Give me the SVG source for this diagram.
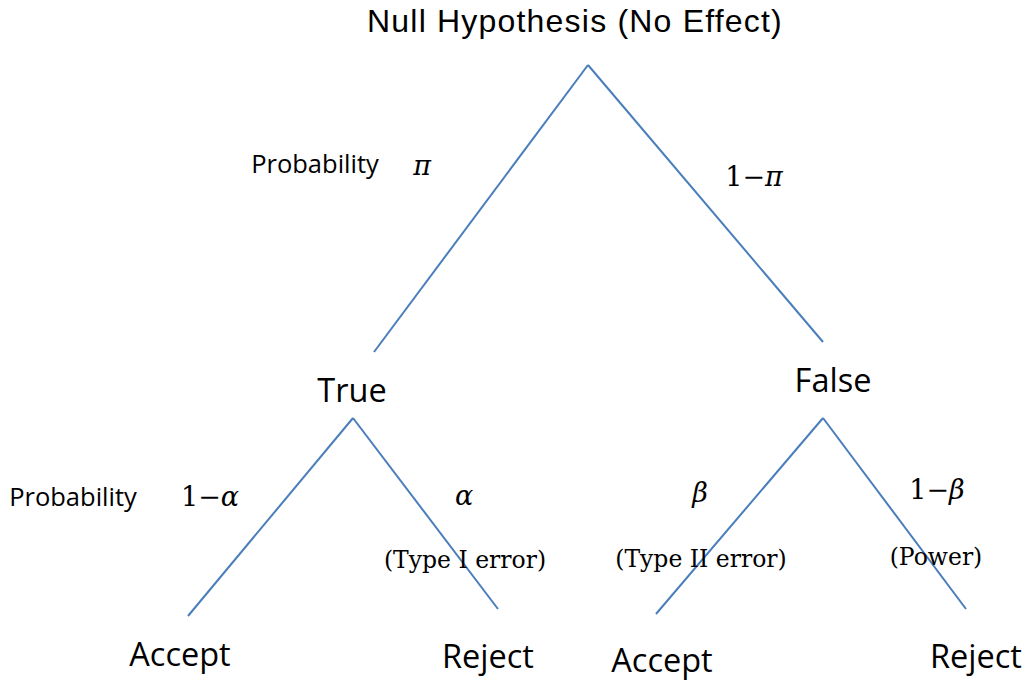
<svg xmlns="http://www.w3.org/2000/svg" width="1029" height="681" viewBox="0 0 1029 681">
<style>
.ln{stroke:#4a7ebb;stroke-width:2;fill:none}
.s{font-family:"Open Sans","Liberation Sans",sans-serif;fill:#000}
.b{font-size:32.5px}
.p{font-size:25.5px}
.m{font-family:"DejaVu Serif","Liberation Serif",serif;fill:#000;font-size:27px}
.t{font-family:"DejaVu Serif","Liberation Serif",serif;fill:#000;font-size:23.5px}
.i{font-style:italic}
</style>
<rect width="1029" height="681" fill="#fff"/>
<g id="connectors">
<line class="ln" x1="588" y1="65" x2="374" y2="352"/>
<line class="ln" x1="588" y1="65" x2="823" y2="342"/>
<line class="ln" x1="353" y1="418" x2="188" y2="616"/>
<line class="ln" x1="353" y1="418" x2="498" y2="609"/>
<line class="ln" x1="823" y1="418" x2="656" y2="614"/>
<line class="ln" x1="823" y1="418" x2="966" y2="609"/>
</g>
<g id="root"><text x="575" y="32" text-anchor="middle" font-family="'Liberation Sans',Arial,sans-serif" font-size="32" letter-spacing="1.2" fill="#000">Null Hypothesis (No Effect)</text></g>
<g id="true"><text class="s b" x="352" y="402" text-anchor="middle">True</text></g>
<g id="false"><text class="s b" x="833" y="392" text-anchor="middle">False</text></g>
<g id="accept1"><text class="s b" x="180" y="666" text-anchor="middle">Accept</text></g>
<g id="reject1"><text class="s b" x="488" y="668" text-anchor="middle">Reject</text></g>
<g id="accept2"><text class="s b" x="662" y="672" text-anchor="middle">Accept</text></g>
<g id="reject2"><text class="s b" x="976" y="668" text-anchor="middle">Reject</text></g>
<g id="labels">
<text class="s p" x="315" y="173" text-anchor="middle">Probability</text>
<text class="m i" x="422" y="175" text-anchor="middle">π</text>
<text class="m" x="754" y="186" text-anchor="middle">1−<tspan class="i">π</tspan></text>
<text class="s p" x="73" y="506" text-anchor="middle">Probability</text>
<text class="m" x="210" y="506" text-anchor="middle">1−<tspan class="i">α</tspan></text>
<text class="m i" x="464" y="505" text-anchor="middle">α</text>
<text class="t" x="465" y="568" text-anchor="middle">(Type I error)</text>
<text class="m i" x="700" y="502" text-anchor="middle">β</text>
<text class="t" x="701" y="567" text-anchor="middle">(Type II error)</text>
<text class="m" x="937" y="499" text-anchor="middle">1−<tspan class="i">β</tspan></text>
<text class="t" x="936" y="565" text-anchor="middle">(Power)</text>
</g>
</svg>
